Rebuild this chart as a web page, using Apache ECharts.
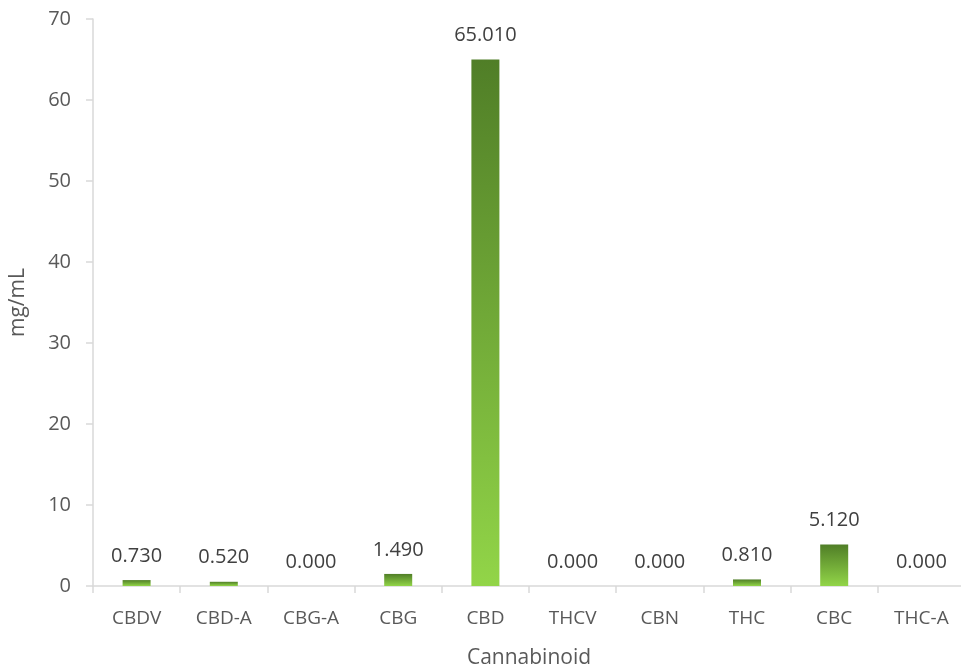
<!DOCTYPE html>
<html><head><meta charset="utf-8">
<script src="https://cdn.jsdelivr.net/npm/echarts@6/dist/echarts.min.js"></script>
<style>html,body{margin:0;padding:0;background:#fff}#c{width:961px;height:670px}</style>
</head><body><div id="c"></div>
<script>
const categories = ['CBDV','CBD-A','CBG-A','CBG','CBD','THCV','CBN','THC','CBC','THC-A'];
const values = [0.73, 0.52, 0.0, 1.49, 65.01, 0.0, 0.0, 0.81, 5.12, 0.0];
const yTicks = [0, 10, 20, 30, 40, 50, 60, 70];

const chart = echarts.init(document.getElementById('c'), null, {renderer: 'canvas'});
const font = '"Open Sans", "Noto Sans", sans-serif';
chart.setOption({
  animation: false,
  grid: {left: 93, right: -4, top: 19, bottom: 84, containLabel: false, outerBoundsMode: 'none'},
  xAxis: {
    type: 'category',
    data: categories,
    name: 'Cannabinoid',
    nameLocation: 'middle',
    nameGap: 62,
    nameTextStyle: {color: '#595959', fontSize: 21, fontFamily: font},
    axisLine: {lineStyle: {color: '#D9D9D9', width: 1.5}},
    axisTick: {show: true, length: 7, lineStyle: {color: '#D9D9D9', width: 1.5}},
    axisLabel: {color: '#595959', fontSize: 19, fontFamily: font, margin: 23}
  },
  yAxis: {
    type: 'value',
    min: yTicks[0], max: yTicks[yTicks.length - 1], interval: 10,
    name: 'mg/mL',
    nameLocation: 'middle',
    nameGap: 64,
    nameRotate: 90,
    nameTextStyle: {color: '#595959', fontSize: 21, fontFamily: font},
    axisLine: {show: true, lineStyle: {color: '#D9D9D9', width: 1.5}},
    axisTick: {show: true, length: 7, lineStyle: {color: '#D9D9D9', width: 1.5}},
    splitLine: {show: false},
    axisLabel: {color: '#595959', fontSize: 20, fontFamily: font, margin: 22}
  },
  series: [{
    type: 'bar',
    data: values,
    barWidth: 28,
    itemStyle: {
      color: new echarts.graphic.LinearGradient(0, 0, 0, 1, [
        {offset: 0, color: '#507E27'},
        {offset: 1, color: '#92D548'}
      ])
    },
    label: {
      show: true,
      position: 'top',
      distance: 14,
      color: '#404040',
      fontSize: 20,
      fontFamily: font,
      formatter: p => p.value.toFixed(3)
    }
  }]
});
</script></body></html>
